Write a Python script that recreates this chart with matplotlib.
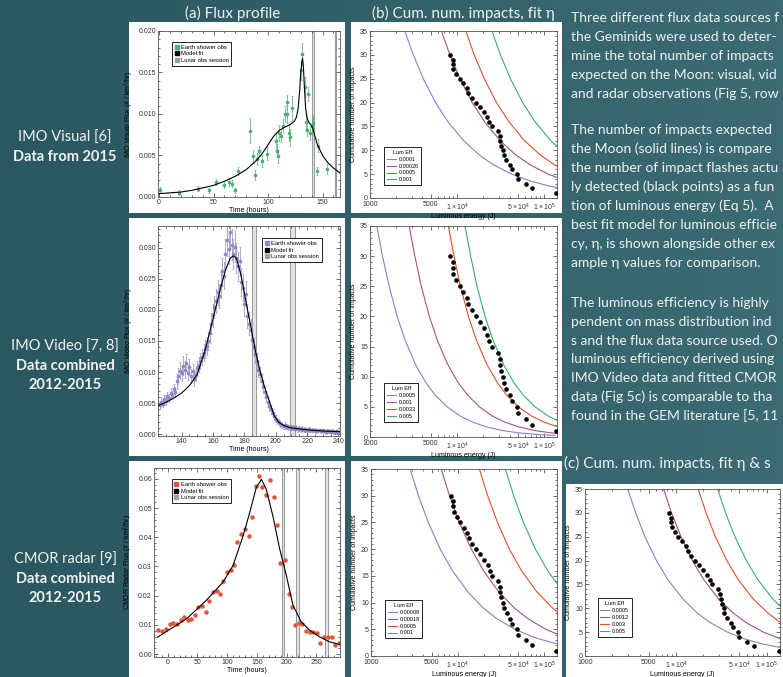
import numpy as np
import matplotlib
matplotlib.use("Agg")
from matplotlib import pyplot as plt
from matplotlib.lines import Line2D
from matplotlib.patches import Rectangle
from matplotlib.colors import LinearSegmentedColormap
from matplotlib.ticker import FixedLocator, FixedFormatter, MultipleLocator, NullFormatter, FormatStrFormatter

''' data read off the poster '''
# (a) IMO visual flux, 2015
vis_t = [1, 18, 36, 46, 52, 60, 64, 67, 70, 72, 83, 86, 88, 90, 92, 94, 99, 107, 108, 109,
         110, 112, 114, 115.5, 117, 117.5, 119, 120, 122.4, 130.6, 131.5, 133.6, 135, 135.5, 137, 138.5,
         140, 141.5, 144.7, 145.6, 154.5]
vis_flux = [0.0009, 0.0005, 0.0010, 0.0008, 0.0018, 0.0015, 0.0018, 0.0016, 0.0008, 0.0031, 0.0080, 0.0049,
            0.0027, 0.0046, 0.0056, 0.0043, 0.0052, 0.0068, 0.0056, 0.0049, 0.0077, 0.0074, 0.0086, 0.0100,
            0.0114, 0.0100, 0.0077, 0.0072, 0.0107, 0.0153, 0.0172, 0.0132, 0.0090, 0.0081, 0.0124, 0.0077,
            0.0085, 0.0089, 0.0031, 0.0062, 0.0034]
vis_err = [0.0003, 0.0003, 0.0003, 0.0003, 0.0004, 0.0004, 0.0005, 0.0004, 0.0003, 0.0005, 0.0015, 0.0008,
           0.0006, 0.0007, 0.0006, 0.0007, 0.0008, 0.0010, 0.0008, 0.0008, 0.0010, 0.0008, 0.0008, 0.0010,
           0.0009, 0.0011, 0.0010, 0.0010, 0.0015, 0.0012, 0.0013, 0.0012, 0.0010, 0.0008, 0.0008, 0.0008,
           0.0010, 0.0010, 0.0005, 0.0008, 0.0006]
vis_fit_t = [0, 10, 20, 30, 40, 50, 60, 70, 80, 90, 95, 100, 105, 110, 115, 120, 124, 126, 127.5, 129,
             130, 131, 131.7, 132.5, 133.5, 134.5, 136, 138, 140, 142, 145, 150, 155, 160, 166]
vis_fit_flux = [0.0004, 0.0005, 0.0006, 0.0008, 0.0011, 0.0014, 0.0019, 0.0025, 0.0033, 0.0045, 0.0053,
                0.0063, 0.0073, 0.0080, 0.0084, 0.0087, 0.0091, 0.0096, 0.0106, 0.0128, 0.0150, 0.0163,
                0.0167, 0.0155, 0.0128, 0.0106, 0.0094, 0.0089, 0.0086, 0.0078, 0.0064, 0.0050, 0.0041,
                0.0035, 0.0029]
vis_sessions = [(140.3, 142.3), (161.5, 162.5)]

# (a) IMO video flux, 2012-2015 combined
vid_t = list(range(126, 241))
vid_flux = [0.0047, 0.0052, 0.0049, 0.0056, 0.0053, 0.0061, 0.0058, 0.0066, 0.0063, 0.0072, 0.0068,
            0.0085, 0.0094, 0.0102, 0.0098, 0.0110, 0.0104, 0.0115, 0.0099, 0.0108, 0.0094, 0.0101,
            0.0089, 0.0097, 0.0106, 0.0112, 0.0118, 0.0124, 0.0131, 0.0137, 0.0142, 0.0150, 0.0163,
            0.0178, 0.0191, 0.0205, 0.0214, 0.0228, 0.0222, 0.0240, 0.0262, 0.0255, 0.0290, 0.0312,
            0.0298, 0.0325, 0.0305, 0.0290, 0.0302, 0.0284, 0.0270, 0.0278, 0.0245, 0.0236, 0.0210,
            0.0225, 0.0190, 0.0178, 0.0168, 0.0152, 0.0140, 0.0129, 0.0118, 0.0104, 0.0096, 0.0085,
            0.0077, 0.0068, 0.0060, 0.0052, 0.0046, 0.0040, 0.0034, 0.0029, 0.0025, 0.0021, 0.0019,
            0.0016, 0.0015, 0.0013, 0.0014, 0.0012, 0.0011, 0.0012, 0.0010, 0.0011, 0.0009, 0.0010,
            0.0008, 0.0009, 0.0008, 0.0009, 0.0007, 0.0008, 0.0007, 0.0008, 0.0006, 0.0007, 0.0006,
            0.0007, 0.0005, 0.0006, 0.0006, 0.0005, 0.0006, 0.0005, 0.0004, 0.0005, 0.0005, 0.0004,
            0.0005, 0.0004, 0.0004, 0.0005, 0.0004]
vid_err = [0.0006, 0.0007, 0.0006, 0.0007, 0.0006, 0.0007, 0.0007, 0.0008, 0.0007, 0.0008, 0.0008,
           0.0012, 0.0013, 0.0014, 0.0012, 0.0015, 0.0013, 0.0014, 0.0012, 0.0013, 0.0011, 0.0012,
           0.0011, 0.0012, 0.0012, 0.0012, 0.0013, 0.0013, 0.0014, 0.0014, 0.0015, 0.0015, 0.0016,
           0.0017, 0.0018, 0.0018, 0.0019, 0.0020, 0.0019, 0.0021, 0.0022, 0.0022, 0.0024, 0.0025,
           0.0024, 0.0026, 0.0025, 0.0024, 0.0025, 0.0024, 0.0023, 0.0023, 0.0022, 0.0021, 0.0020,
           0.0021, 0.0019, 0.0018, 0.0017, 0.0016, 0.0015, 0.0014, 0.0013, 0.0012, 0.0012, 0.0011,
           0.0010, 0.0009, 0.0009, 0.0008, 0.0008, 0.0007, 0.0007, 0.0006, 0.0006, 0.0005, 0.0005,
           0.0005, 0.0005, 0.0004, 0.0005, 0.0004, 0.0004, 0.0005, 0.0004, 0.0004, 0.0004, 0.0004,
           0.0004, 0.0004, 0.0004, 0.0004, 0.0003, 0.0004, 0.0003, 0.0004, 0.0003, 0.0003, 0.0003,
           0.0003, 0.0003, 0.0003, 0.0003, 0.0003, 0.0003, 0.0003, 0.0003, 0.0003, 0.0003, 0.0003,
           0.0003, 0.0003, 0.0003, 0.0003, 0.0003]
vid_fit_t = [125, 130, 135, 140, 145, 150, 155, 160, 165, 168, 171, 173, 175, 178, 181, 184, 187, 190,
             193, 196, 199, 202, 205, 210, 220, 230, 241]
vid_fit_flux = [0.0046, 0.0051, 0.0058, 0.0066, 0.0078, 0.0096, 0.0135, 0.0185, 0.0236, 0.0264, 0.0283,
                0.0287, 0.0283, 0.0255, 0.0214, 0.0175, 0.0135, 0.0102, 0.0075, 0.0053, 0.0030, 0.0019,
                0.0014, 0.0010, 0.0007, 0.0005, 0.0004]
vid_sessions = [(185.2, 187.7), (209.4, 212.6)]

# (a) CMOR radar flux, 2012-2015 combined
cmor_t = [-16.8, -10, -2.8, 3.9, 9.5, 16, 21.8, 27.4, 33.6, 38.6, 45.9, 51.5, 57, 63.8, 69.4, 75.5, 82.2,
          87.8, 93.4, 100, 106.3, 111.9, 117.4, 123, 129.8, 136.5, 142, 148.2, 153.8, 159.4, 166, 172.8,
          178.4, 184, 189.6, 196.9, 203.6, 209.2, 214.8, 220.9, 226.5, 233.2, 238.8, 244.4, 251, 256.7,
          262.3, 269.6, 276.3, 282.4, 288]
cmor_flux = [0.0084, 0.0078, 0.0085, 0.0104, 0.0108, 0.0104, 0.0116, 0.0127, 0.0118, 0.0119, 0.0133,
             0.0161, 0.0164, 0.0144, 0.0181, 0.0212, 0.0215, 0.0206, 0.0250, 0.0282, 0.0288, 0.0306,
             0.0382, 0.0411, 0.0428, 0.0405, 0.0470, 0.0575, 0.0609, 0.0572, 0.0544, 0.0597, 0.0539,
             0.0443, 0.0312, 0.0322, 0.0206, 0.0161, 0.0099, 0.0108, 0.0104, 0.0079, 0.0076, 0.0074,
             0.0073, 0.0039, 0.0059, 0.0057, 0.0057, 0.0031, 0.0039]
cmor_fit_t = [-17, 32, 65, 93, 110, 127, 138, 149, 157.7, 166, 177, 188.5, 199.7, 210.9, 224.8, 238.8,
              255.6, 272.4, 289]
cmor_fit_flux = [0.0058, 0.0121, 0.0184, 0.0246, 0.0303, 0.0405, 0.0484, 0.0569, 0.0598, 0.0564, 0.0473,
                 0.0360, 0.0269, 0.0167, 0.0110, 0.0082, 0.0059, 0.0042, 0.0033]
cmor_sessions = [(192.5, 195.5), (216, 220.5), (265, 270.5)]

# (b)/(c) observed impact flashes
flash_E = [8380, 8910, 8950, 9080, 9750, 10650, 11830, 12920, 13500, 14750, 16250, 18070, 20090, 22130,
           23500, 25000, 29300, 30680, 31200, 31800, 33500, 34100, 36600, 40700, 42900, 48500, 49800,
           61000, 72100, 135000]
flash_N = [30, 29, 28, 27, 26, 25, 24, 23, 22, 21, 20, 19, 18, 17, 16, 15, 14, 13, 12, 11, 10, 9, 8, 7,
           6, 5, 4, 3, 2, 1]

# model curves: luminous energy at which each curve reaches these cumulative numbers
cum_levels = [35, 30, 25, 20, 16, 12, 9, 7, 5, 3.5, 2.5, 1.7, 1.1, 0.7, 0.4, 0.25]

vis_eta = ['0.0001', '0.00026', '0.0005', '0.001']
vis_cum_E = [[2510, 3140, 4090, 5650, 7820, 11900, 18000, 25900, 42200, 70600, 115000, 201000],
             [6610, 8260, 10800, 14900, 20600, 31200, 47300, 68100, 111000, 186000],
             [12600, 15700, 20500, 28300, 39200, 59400, 90200, 130000, 211000],
             [25100, 31400, 40900, 56500, 78200, 119000, 180000]]

vid_eta = ['0.0005', '0.001', '0.0033', '0.005']
vid_cum_E = [[1200, 1390, 1660, 2050, 2540, 3330, 4390, 5570, 7670, 10800, 14900, 21400, 32400, 49900, 84900, 132700],
             [2820, 3270, 3880, 4800, 5940, 7820, 10300, 13100, 18000, 25200, 34800, 50200, 76000, 117000, 199000],
             [7940, 9200, 10900, 13500, 16700, 22000, 29000, 36800, 50700, 71100, 98200, 142000, 214000],
             [12300, 14300, 16900, 20900, 25900, 34100, 44900, 57000, 78500, 110000, 152000]]

cmor_eta = ['0.00008', '0.00018', '0.0005', '0.001']
cmor_cum_E = [[2830, 3530, 4580, 6300, 8670, 13100, 19700, 28200, 45600, 76000, 123000, 213000],
              [6460, 8050, 10400, 14400, 19800, 29800, 45000, 64400, 104000, 173000],
              [17800, 22200, 28800, 39500, 54400, 82000, 124000, 177000],
              [35500, 44300, 57400, 78900, 109000, 164000]]

fit_eta = ['0.0005', '0.0012', '0.003', '0.005']
fit_cum_E = [[2950, 3610, 4570, 6110, 8160, 11900, 17200, 23900, 37000, 58700, 91000, 150000],
             [7330, 8950, 11400, 15200, 20300, 29400, 42800, 59300, 91800, 146000],
             [17600, 21500, 27200, 36400, 48600, 70600, 103000, 142000],
             [28800, 35200, 44700, 59700, 79800, 116000, 168000]]

# poster text (right column is cut off by the edge of the crop, as on the poster)
left_labels = [
    [('IMO Visual [6]', 'normal'), ('Data from 2015', 'bold')],
    [('IMO Video [7, 8]', 'normal'), ('Data combined', 'bold'), ('2012-2015', 'bold')],
    [('CMOR radar [9]', 'normal'), ('Data combined', 'bold'), ('2012-2015', 'bold')],
]
para1 = ["Three different flux data sources f",
         "the Geminids were used to deter-",
         "mine the total number of impacts",
         "expected on the Moon: visual, vid",
         "and radar observations (Fig 5, row"]
para2 = ["The number of impacts expected",
         "the Moon (solid lines) is compare",
         "the number of impact flashes actu",
         "ly detected (black points) as a fun",
         "tion of luminous energy (Eq 5).  A",
         "best fit model for luminous efficie",
         "cy, \u03b7, is shown alongside other ex",
         "ample \u03b7 values for comparison."]
para3 = ["The luminous efficiency is highly",
         "pendent on mass distribution ind",
         "s and the flux data source used. O",
         "luminous efficiency derived using",
         "IMO Video data and fitted CMOR",
         "data (Fig 5c) is comparable to tha",
         "found in the GEM literature [5, 11"]
''' end data '''

plt.rcParams['font.family'] = ['Liberation Sans', 'DejaVu Sans']
plt.rcParams['mathtext.fontset'] = 'custom'
plt.rcParams['mathtext.rm'] = 'Liberation Sans'
plt.rcParams['mathtext.it'] = 'Liberation Sans:italic'

W, H = 783, 677
fig = plt.figure(figsize=(W / 100, H / 100), dpi=100)

poster_font = ['Lato', 'DejaVu Sans']
txt_color = '#eef3f4'
curve_colors = ['#8383c9', '#a4508f', '#e0522d', '#3aae6c']


def px_axes(x0, y0, x1, y1, **kw):
    # pixel box, origin top-left
    return fig.add_axes([x0 / W, 1 - y1 / H, (x1 - x0) / W, (y1 - y0) / H], **kw)


def px_text(x, y, s, **kw):
    fig.text(x / W, 1 - y / H, s, **kw)


# teal background
bg = px_axes(0, 0, W, H, zorder=-10)
teal = LinearSegmentedColormap.from_list('teal', ['#2b5760', '#336169', '#3c6b73'])
gx = np.linspace(0, 1, 200)
bg.imshow(np.vstack([gx, gx]), extent=[0, 1, 0, 1], aspect='auto', cmap=teal)
bg.axis('off')

# white panels
for (x0, y0, x1, y1) in [(129, 22, 345, 213), (351, 22, 562, 213),
                         (129, 218, 345, 456), (351, 218, 562, 456),
                         (129, 461, 345, 677), (351, 461, 562, 677),
                         (566, 484, 783, 677)]:
    fig.patches.append(Rectangle((x0 / W, 1 - y1 / H), (x1 - x0) / W, (y1 - y0) / H,
                                 transform=fig.transFigure, facecolor='white',
                                 edgecolor='none', zorder=-5))


def style(ax):
    for s in ax.spines.values():
        s.set_linewidth(0.6)
        s.set_color('#555555')
    ax.tick_params(which='both', direction='in', top=True, right=True, labelsize=5,
                   width=0.5, colors='#333333', pad=1.5)
    ax.tick_params(which='major', length=3)
    ax.tick_params(which='minor', length=1.5)


def flux_panel(ax, t, f, err, fit_t, fit_f, sessions, color, ylabel, legend_loc, legend_anchor):
    style(ax)
    for a, b in sessions:
        ax.axvspan(a, b, facecolor='#e2e2e2', edgecolor='#8a8a8a', lw=0.6, zorder=1)
    if err is not None:
        ax.errorbar(t, f, yerr=err, fmt='o', ms=1.6, color=color, ecolor=color,
                    elinewidth=0.5, capsize=0.8, capthick=0.4, zorder=2)
    else:
        ax.plot(t, f, 'o', ms=2.2, color=color, zorder=2)
    ax.plot(fit_t, fit_f, color='black', lw=0.8, zorder=3)
    ax.set_xlabel('Time (hours)', fontsize=5, labelpad=0.5)
    ax.set_ylabel(ylabel, fontsize=5, labelpad=2)
    handles = [Line2D([], [], ls='none', marker='s', ms=3, color=color),
               Line2D([], [], ls='none', marker='s', ms=3, color='black'),
               Line2D([], [], ls='none', marker='s', ms=3, color='#a0a0a0')]
    leg = ax.legend(handles, ['Earth shower obs', 'Model fit', 'Lunar obs session'],
                    loc=legend_loc, bbox_to_anchor=legend_anchor, fontsize=4.2,
                    handlelength=0.7, handletextpad=0.4, borderpad=0.45, labelspacing=0.25,
                    fancybox=False, framealpha=1, edgecolor='black')
    leg.get_frame().set_linewidth(0.6)


def cum_panel(ax, curves, etas, legend_anchor):
    style(ax)
    ax.tick_params(axis='x', which='both', pad=2.5)
    ax.set_xscale('log')
    for E, col, lab in zip(curves, curve_colors, etas):
        ax.plot(E, cum_levels[:len(E)], color=col, lw=0.8, label=lab)
    ax.plot(flash_E, flash_N, 'o', ms=2.3, color='black', zorder=4)
    ax.set_xlim(1000, 1.4e5)
    ax.set_ylim(0, 35)
    ax.xaxis.set_major_locator(FixedLocator([1000, 5000, 1e4, 5e4, 1e5]))
    ax.xaxis.set_major_formatter(FixedFormatter(['1000', '5000', r'$1\times10^{4}$',
                                                 r'$5\times10^{4}$', r'$1\times10^{5}$']))
    ax.xaxis.set_minor_locator(FixedLocator([2000, 3000, 4000, 6000, 7000, 8000, 9000,
                                             2e4, 3e4, 4e4, 6e4, 7e4, 8e4, 9e4]))
    ax.xaxis.set_minor_formatter(NullFormatter())
    ax.yaxis.set_major_locator(MultipleLocator(5))
    ax.yaxis.set_minor_locator(MultipleLocator(1))
    ax.set_xlabel('Luminous energy (J)', fontsize=5, labelpad=0.5)
    ax.set_ylabel('Cumulative number of impacts', fontsize=5, labelpad=2)
    leg = ax.legend(loc='lower left', bbox_to_anchor=legend_anchor, title='Lum Eff',
                    fontsize=4, title_fontsize=4, handlelength=1.6, handletextpad=0.5,
                    borderpad=0.5, labelspacing=0.35, fancybox=False, framealpha=1,
                    edgecolor='black')
    leg.get_frame().set_linewidth(0.6)


# row 1
ax = px_axes(158, 31, 340, 197)
flux_panel(ax, vis_t, vis_flux, vis_err, vis_fit_t, vis_fit_flux, vis_sessions, '#4caf72',
           'IMO Visual Flux (# / km$^2$/hr)', 'upper left', (0.06, 0.95))
ax.set_xlim(-1, 166)
ax.set_ylim(0, 0.020)
ax.xaxis.set_major_locator(MultipleLocator(50))
ax.xaxis.set_minor_locator(MultipleLocator(10))
ax.yaxis.set_major_locator(MultipleLocator(0.005))
ax.yaxis.set_minor_locator(MultipleLocator(0.001))
ax.yaxis.set_major_formatter(FormatStrFormatter('%.3f'))

ax = px_axes(370, 31, 557, 198)
cum_panel(ax, vis_cum_E, vis_eta, (0.06, 0.06))

# row 2
ax = px_axes(158, 226, 340, 436)
flux_panel(ax, vid_t, vid_flux, vid_err, vid_fit_t, vid_fit_flux, vid_sessions, '#8f86c6',
           'IMO Video Flux (# / km$^2$/hr)', 'upper right', (0.915, 0.955))
ax.set_xlim(125, 241)
ax.set_ylim(-0.0003, 0.0335)
ax.xaxis.set_major_locator(MultipleLocator(20))
ax.xaxis.set_minor_locator(MultipleLocator(5))
ax.yaxis.set_major_locator(MultipleLocator(0.005))
ax.yaxis.set_minor_locator(MultipleLocator(0.001))
ax.yaxis.set_major_formatter(FormatStrFormatter('%.3f'))

ax = px_axes(370, 226, 557, 437)
cum_panel(ax, vid_cum_E, vid_eta, (0.06, 0.06))

# row 3
ax = px_axes(154, 468, 340, 657)
flux_panel(ax, cmor_t, cmor_flux, None, cmor_fit_t, cmor_fit_flux, cmor_sessions, '#e6523a',
           'CMOR Radar Flux (# / km$^2$/hr)', 'upper left', (0.08, 0.955))
ax.set_xlim(-23, 290)
ax.set_ylim(-0.001, 0.0637)
ax.xaxis.set_major_locator(MultipleLocator(50))
ax.xaxis.set_minor_locator(MultipleLocator(10))
ax.yaxis.set_major_locator(MultipleLocator(0.01))
ax.yaxis.set_minor_locator(MultipleLocator(0.002))
ax.yaxis.set_major_formatter(FormatStrFormatter('%.2f'))

ax = px_axes(371, 469, 557, 656)
cum_panel(ax, cmor_cum_E, cmor_eta, (0.06, 0.08))

ax = px_axes(585, 489, 780, 656)
cum_panel(ax, fit_cum_E, fit_eta, (0.05, 0.1))

# headers
head_kw = dict(va='center', fontsize=11, color=txt_color, family=poster_font)
px_text(233, 13, '(a) Flux profile', ha='center', **head_kw)
px_text(463, 13, '(b) Cum. num. impacts, fit \u03b7', ha='center', **head_kw)
px_text(564, 463, '(c) Cum. num. impacts, fit \u03b7 & s', ha='left', **head_kw)

# row labels
for lines, y0 in zip(left_labels, [138, 347, 560]):
    for k, (s, w) in enumerate(lines):
        px_text(65, y0 + 19 * k, s, ha='center', va='center', fontsize=10.5, weight=w,
                color=txt_color, family=poster_font)

# right column paragraphs
for lines, y0, dy in [(para1, 18, 19), (para2, 130, 19), (para3, 303, 18.8)]:
    for k, s in enumerate(lines):
        px_text(571, y0 + dy * k, s, ha='left', va='center', fontsize=10.0,
                color=txt_color, family=poster_font)

plt.savefig('out.png', dpi=100)
plt.close()
